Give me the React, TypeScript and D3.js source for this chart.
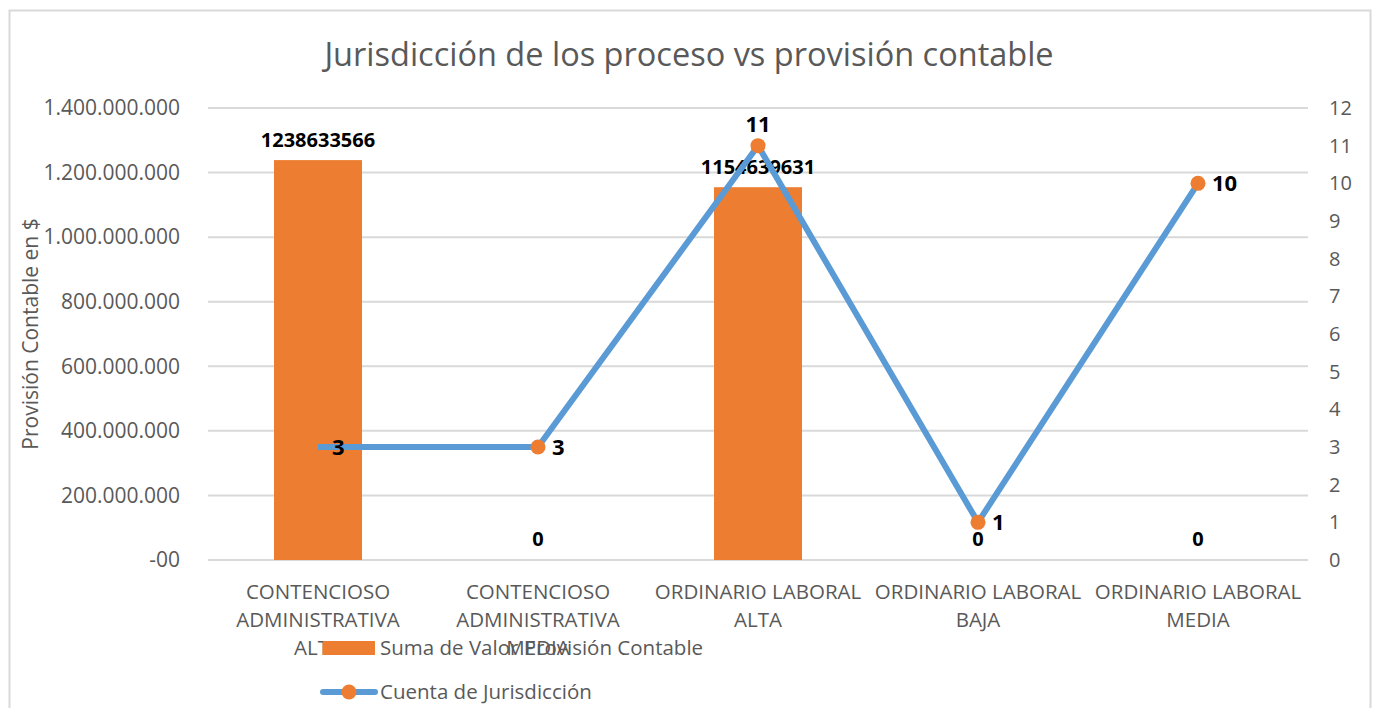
import React, { useEffect, useRef } from "react";
import * as d3 from "d3";

const categories = [
  ["CONTENCIOSO", "ADMINISTRATIVA", "ALTA"],
  ["CONTENCIOSO", "ADMINISTRATIVA", "MEDIA"],
  ["ORDINARIO LABORAL", "ALTA"],
  ["ORDINARIO LABORAL", "BAJA"],
  ["ORDINARIO LABORAL", "MEDIA"],
];
const provision = [1238633566, 0, 1154639631, 0, 0];
const cuenta = [3, 3, 11, 1, 10];
const leftTicks = [0, 200000000, 400000000, 600000000, 800000000, 1000000000, 1200000000, 1400000000];
const rightTicks = [0, 1, 2, 3, 4, 5, 6, 7, 8, 9, 10, 11, 12];

const FONT = "'Open Sans', 'Liberation Sans', sans-serif";
const GREY = "#595959";

export default function App() {
  const ref = useRef<SVGSVGElement | null>(null);

  useEffect(() => {
    const svg = d3.select(ref.current as any);
    svg.selectAll("*").remove();
    const W = 1376, H = 708;
    const left = 208, right = 1308, top = 108, bottom = 560;

    svg.append("rect").attr("x", 9.5).attr("y", 10.5).attr("width", 1361).attr("height", 720)
      .attr("fill", "#fff").attr("stroke", "#d9d9d9").attr("stroke-width", 2);

    const keys = categories.map((_, i) => String(i));
    const x = d3.scaleBand().domain(keys).range([left, right]).paddingInner(0).paddingOuter(0);
    const y = d3.scaleLinear().domain([0, 1400000000]).range([bottom, top]);
    const y2 = d3.scaleLinear().domain([0, 12]).range([bottom, top]);
    const cx = (i: number) => (x(String(i)) || 0) + x.bandwidth() / 2;

    // title
    svg.append("text").attr("x", 689).attr("y", 66).attr("text-anchor", "middle")
      .attr("fill", GREY).style("font-family", FONT).style("font-size", "32.5px")
      .text("Jurisdicción de los proceso vs provisión contable");

    // grid
    svg.append("g").selectAll("line").data(leftTicks).enter().append("line")
      .attr("x1", left).attr("x2", right)
      .attr("y1", d => y(d)).attr("y2", d => y(d))
      .attr("stroke", "#d9d9d9").attr("stroke-width", 2);

    // left ticks
    const fmt = (d: number) => d === 0 ? "-00" : d3.format(",")(d).replace(/,/g, ".");
    svg.append("g").selectAll("text").data(leftTicks).enter().append("text")
      .attr("x", 180).attr("y", d => y(d)).attr("dy", "0.35em").attr("text-anchor", "end")
      .attr("fill", GREY).style("font-family", FONT).style("font-size", "21px")
      .text(d => fmt(d));

    // right ticks
    svg.append("g").selectAll("text").data(rightTicks).enter().append("text")
      .attr("x", 1329).attr("y", d => y2(d)).attr("dy", "0.35em").attr("text-anchor", "start")
      .attr("fill", GREY).style("font-family", FONT).style("font-size", "20px")
      .text(d => String(d));

    // y title
    svg.append("text").attr("transform", `translate(38,${(top + bottom) / 2}) rotate(-90)`)
      .attr("text-anchor", "middle").attr("fill", GREY)
      .style("font-family", FONT).style("font-size", "21px")
      .text("Provisión Contable en $");

    // x labels
    categories.forEach((lines, i) => {
      const t = svg.append("text").attr("x", cx(i)).attr("y", 599).attr("text-anchor", "middle")
        .attr("fill", GREY).style("font-family", FONT).style("font-size", "20.5px");
      lines.forEach((l, j) => {
        t.append("tspan").attr("x", cx(i)).attr("dy", j === 0 ? 0 : 28).text(l);
      });
    });

    // bars
    const bw = 88;
    svg.append("g").selectAll("rect").data(provision).enter().append("rect")
      .attr("x", (_, i) => cx(i) - bw / 2).attr("width", bw)
      .attr("y", d => y(d)).attr("height", d => bottom - y(d))
      .attr("fill", "#ED7D31");

    // bar labels
    svg.append("g").selectAll("text").data(provision).enter().append("text")
      .attr("x", (_, i) => cx(i)).attr("y", d => d === 0 ? 546 : y(d) - 13)
      .attr("text-anchor", "middle").attr("fill", "#000").style("font-weight", "bold")
      .style("font-family", FONT).style("font-size", "20px")
      .text(d => String(d));

    // line
    const line = d3.line<number>().x((_, i) => cx(i)).y(d => y2(d));
    svg.append("path").datum(cuenta).attr("d", line as any).attr("fill", "none")
      .attr("stroke", "#5B9BD5").attr("stroke-width", 6).attr("stroke-linejoin", "round");

    svg.append("g").selectAll("circle").data(cuenta).enter().filter((_, i) => i > 0).append("circle")
      .attr("cx", (_, i) => cx(i + 1)).attr("cy", d => y2(d)).attr("r", 7.5).attr("fill", "#ED7D31");

    // line labels
    svg.append("g").selectAll("text").data(cuenta).enter().append("text")
      .attr("x", (d, i) => i === 2 ? cx(i) : cx(i) + 14)
      .attr("y", (d, i) => i === 2 ? y2(d) - 14 : y2(d) + 8)
      .attr("text-anchor", (_, i) => i === 2 ? "middle" : "start")
      .attr("fill", "#000").style("font-weight", "bold")
      .style("font-family", FONT).style("font-size", "22px")
      .text(d => String(d));

    // legend
    const lg = svg.append("g");
    lg.append("rect").attr("x", 323).attr("y", 641).attr("width", 52).attr("height", 14).attr("fill", "#ED7D31");
    lg.append("text").attr("x", 380).attr("y", 648).attr("dy", "0.35em").attr("fill", GREY)
      .style("font-family", FONT).style("font-size", "20.5px").text("Suma de Valor Provisión Contable");
    lg.append("line").attr("x1", 323).attr("x2", 375).attr("y1", 692).attr("y2", 692)
      .attr("stroke", "#5B9BD5").attr("stroke-width", 6).attr("stroke-linecap", "round");
    lg.append("circle").attr("cx", 349).attr("cy", 692).attr("r", 7.5).attr("fill", "#ED7D31");
    lg.append("text").attr("x", 380).attr("y", 692).attr("dy", "0.35em").attr("fill", GREY)
      .style("font-family", FONT).style("font-size", "20.5px").text("Cuenta de Jurisdicción");

    svg.attr("viewBox", `0 0 ${W} ${H}`);
  }, []);

  return (
    <svg ref={ref} width={1376} height={708}
      style={{ position: "absolute", left: 0, top: 0, display: "block" }} />
  );
}
